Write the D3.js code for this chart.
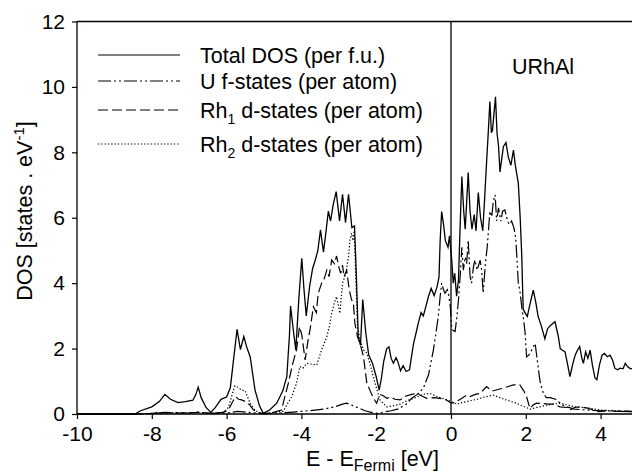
<!DOCTYPE html>
<html><head><meta charset="utf-8">
<script src="https://cdn.jsdelivr.net/npm/d3@7"></script>
<style>
html,body{margin:0;padding:0;background:#fff;}
svg{display:block;font-family:"Liberation Sans",Arial,Helvetica,sans-serif;}
</style></head>
<body><svg id="c" width="632" height="472"></svg>
<script>
// ---- data ----
const xTicks = [-10, -8, -6, -4, -2, 0, 2, 4];
const yTicks = [0, 2, 4, 6, 8, 10, 12];
const seriesNames = ["Total DOS (per f.u.)", "U f-states (per atom)", "Rh1 d-states (per atom)", "Rh2 d-states (per atom)"];

const totalE = [-10,-8.45,-8.3,-8.0,-7.8,-7.65,-7.5,-7.3,-7.1,-6.9,-6.82,-6.76,-6.68,-6.55,-6.42,-6.3,-6.15,-6.0,-5.9,-5.82,-5.72,-5.63,-5.54,-5.45,-5.37,-5.24,-5.12,-5.02,-4.85,-4.66,-4.5,-4.39,-4.32,-4.29,-4.22,-4.15,-4.07,-3.99,-3.93,-3.87,-3.78,-3.7,-3.63,-3.56,-3.49,-3.41,-3.35,-3.28,-3.22,-3.15,-3.07,-2.98,-2.9,-2.82,-2.74,-2.65,-2.58,-2.53,-2.48,-2.42,-2.36,-2.28,-2.2,-2.1,-2.0,-1.92,-1.86,-1.8,-1.72,-1.66,-1.6,-1.54,-1.47,-1.42,-1.35,-1.28,-1.2,-1.11,-1.05,-1.0,-0.93,-0.87,-0.8,-0.74,-0.67,-0.6,-0.53,-0.45,-0.37,-0.32,-0.29,-0.25,-0.2,-0.15,-0.08,-0.04,0.02,0.06,0.1,0.15,0.2,0.24,0.29,0.34,0.38,0.42,0.46,0.51,0.56,0.62,0.67,0.73,0.79,0.85,0.9,0.94,0.99,1.04,1.08,1.11,1.15,1.19,1.23,1.27,1.31,1.4,1.47,1.53,1.6,1.67,1.72,1.8,1.85,1.89,1.93,1.98,2.04,2.1,2.2,2.27,2.33,2.42,2.51,2.58,2.65,2.78,2.87,2.92,2.98,3.05,3.12,3.18,3.25,3.32,3.38,3.44,3.5,3.54,3.6,3.66,3.72,3.78,3.85,3.9,3.97,4.04,4.1,4.18,4.25,4.32,4.38,4.45,4.52,4.6,4.66,4.72,4.8,4.9];
const totalDOS = [0,0,0.1,0.22,0.38,0.6,0.45,0.35,0.38,0.42,0.6,0.82,0.5,0.2,0.05,0.2,0.45,0.52,0.8,1.6,2.59,1.97,2.37,2.0,1.75,0.73,0.25,0.02,0.12,0.33,0.7,1.14,2.4,3.3,2.6,1.96,3.5,4.76,3.8,3.0,3.9,4.45,4.7,5.0,5.63,4.95,5.5,6.2,5.9,6.4,6.8,5.9,6.72,5.85,6.72,5.7,5.75,4.2,2.36,2.1,3.5,2.5,1.8,1.55,1.14,0.73,1.1,1.6,2.0,2.05,1.7,1.55,1.72,1.6,1.32,1.48,1.3,1.35,1.8,2.16,2.5,2.8,3.1,3.0,3.3,3.6,3.84,3.62,3.9,4.2,5.3,6.19,5.8,5.3,5.1,5.45,4.7,4.0,4.3,3.6,4.1,5.6,7.26,6.2,5.65,6.5,7.38,6.2,5.65,6.1,5.6,6.77,6.0,5.6,6.6,7.46,8.48,9.55,8.6,8.68,9.2,9.7,8.6,8.2,7.4,8.17,8.3,7.87,7.6,8.07,7.6,7.05,6.0,4.9,3.2,3.1,2.98,3.3,3.79,3.4,2.98,2.67,2.3,2.6,2.7,2.82,2.37,2.0,1.95,1.9,1.5,1.14,1.5,1.8,1.95,2.06,1.7,1.55,1.9,1.7,1.95,1.5,1.1,1.05,1.5,1.8,1.85,1.75,1.8,1.65,1.4,1.35,1.4,1.38,1.55,1.45,1.38,1.4];

const uE = [-10,-8.4,-8.0,-7.6,-7.0,-6.76,-6.5,-6.0,-5.7,-5.4,-5.0,-4.6,-4.2,-3.8,-3.4,-3.1,-2.9,-2.79,-2.65,-2.5,-2.3,-2.1,-1.95,-1.8,-1.6,-1.4,-1.2,-1.05,-0.9,-0.74,-0.6,-0.47,-0.4,-0.34,-0.29,-0.25,-0.2,-0.16,-0.1,-0.07,-0.02,0.02,0.06,0.11,0.16,0.2,0.25,0.29,0.33,0.38,0.42,0.46,0.51,0.55,0.6,0.64,0.7,0.78,0.82,0.86,0.92,0.97,1.04,1.09,1.13,1.18,1.22,1.27,1.33,1.38,1.44,1.49,1.55,1.62,1.68,1.73,1.76,1.8,1.84,1.9,1.94,1.98,2.02,2.08,2.16,2.25,2.3,2.38,2.47,2.55,2.65,2.8,2.95,3.09,3.3,3.63,4.0,4.5,4.9];
const uDOS = [0,0,0.02,0.04,0.03,0.06,0.02,0.03,0.08,0.05,0.01,0.03,0.06,0.1,0.15,0.22,0.3,0.33,0.27,0.2,0.1,0.04,0.02,0.06,0.1,0.16,0.3,0.48,0.6,0.79,1.2,1.96,2.5,2.98,3.59,4.0,3.8,3.69,3.8,3.69,3.3,2.6,2.55,2.52,3.0,3.49,4.3,5.1,4.4,4.8,4.6,5.32,4.2,4.0,4.5,4.71,4.4,4.7,4.4,3.7,4.6,5.12,6.2,6.03,6.5,6.7,5.9,6.3,5.9,6.2,6.24,6.0,5.8,5.9,5.7,5.4,4.81,4.0,3.79,3.2,2.9,2.5,1.75,1.8,1.96,2.16,1.7,1.0,0.63,0.5,0.5,0.45,0.3,0.22,0.15,0.12,0.1,0.08,0.07];

const rh1E = [-10,-8.4,-8.0,-7.65,-7.2,-6.76,-6.4,-6.1,-5.95,-5.85,-5.76,-5.68,-5.6,-5.5,-5.4,-5.28,-5.1,-5.0,-4.75,-4.53,-4.45,-4.35,-4.23,-4.13,-4.05,-3.99,-3.9,-3.83,-3.77,-3.68,-3.6,-3.55,-3.46,-3.4,-3.32,-3.26,-3.19,-3.12,-3.06,-3.0,-2.95,-2.9,-2.86,-2.79,-2.72,-2.66,-2.61,-2.57,-2.5,-2.43,-2.34,-2.25,-2.17,-2.08,-1.99,-1.9,-1.8,-1.72,-1.6,-1.5,-1.36,-1.2,-1.05,-0.92,-0.78,-0.65,-0.45,-0.25,-0.12,0.0,0.1,0.25,0.42,0.51,0.65,0.78,0.95,1.1,1.25,1.4,1.55,1.67,1.84,1.95,2.02,2.11,2.2,2.29,2.45,2.6,2.75,2.91,3.1,3.18,3.3,3.45,3.65,3.85,3.98,4.2,4.4,4.6,4.9];
const rh1DOS = [0,0,0.02,0.05,0.03,0.05,0.02,0.05,0.12,0.35,0.53,0.45,0.43,0.38,0.3,0.12,0.03,0.01,0.05,0.12,0.5,0.94,1.55,1.96,2.67,2.42,1.65,2.2,2.57,3.28,3.1,3.69,4.0,4.1,4.4,4.2,4.71,4.6,4.83,4.5,4.3,4.55,4.2,4.4,3.79,3.5,3.39,2.77,2.36,2.16,1.75,0.94,0.73,0.5,0.33,0.6,0.55,0.48,0.52,0.45,0.43,0.55,0.6,0.63,0.55,0.48,0.5,0.47,0.43,0.33,0.35,0.45,0.58,0.53,0.6,0.63,0.84,0.7,0.75,0.79,0.85,0.89,0.89,0.7,0.53,0.17,0.28,0.33,0.32,0.3,0.3,0.22,0.2,0.12,0.2,0.22,0.18,0.1,0.07,0.12,0.08,0.1,0.08];

const rh2E = [-10,-8.4,-8.0,-7.65,-7.0,-6.76,-6.4,-6.1,-5.95,-5.85,-5.78,-5.7,-5.6,-5.51,-5.45,-5.37,-5.25,-5.1,-5.0,-4.75,-4.49,-4.38,-4.26,-4.13,-4.04,-3.96,-3.86,-3.72,-3.59,-3.46,-3.32,-3.25,-3.19,-3.12,-3.06,-2.97,-2.9,-2.81,-2.74,-2.7,-2.66,-2.62,-2.59,-2.54,-2.5,-2.43,-2.34,-2.25,-2.17,-2.03,-1.9,-1.72,-1.55,-1.36,-1.15,-0.95,-0.75,-0.56,-0.35,-0.15,0.0,0.15,0.3,0.5,0.7,0.9,1.13,1.3,1.5,1.7,1.9,2.11,2.3,2.5,2.7,2.91,3.1,3.3,3.5,3.7,4.0,4.3,4.6,4.9];
const rh2DOS = [0,0,0.01,0.03,0.02,0.04,0.02,0.05,0.2,0.6,0.86,0.82,0.73,0.72,0.55,0.33,0.12,0.03,0.01,0.05,0.08,0.3,0.53,0.94,1.45,1.4,1.55,1.52,1.5,1.96,2.36,2.7,3.08,3.4,3.59,3.08,4.0,4.3,4.81,5.32,5.53,5.3,5.6,4.0,2.67,2.26,1.96,1.86,1.55,0.94,0.43,0.22,0.25,0.3,0.42,0.5,0.6,0.63,0.52,0.45,0.38,0.3,0.35,0.4,0.45,0.52,0.58,0.5,0.42,0.35,0.25,0.15,0.2,0.25,0.3,0.33,0.28,0.22,0.2,0.18,0.12,0.1,0.08,0.07];

// ---- drawing ----
const svg = d3.select("#c");
const FS = 21.5;      // legend / titles
const TFS = 21;       // tick labels
const x = d3.scaleLinear().domain([-10, 5]).range([77, 638]);
const y = d3.scaleLinear().domain([0, 12]).range([414, 21.5]);

const dashes = ["none", "13 3 2 3 2 3", "10 4", "1.3 2"];
const series = [[totalE, totalDOS], [uE, uDOS], [rh1E, rh1DOS], [rh2E, rh2DOS]];
const line = d3.line().x(d => x(d[0])).y(d => y(d[1]));

const plot = svg.append("g");
series.forEach((s, i) => {
  const pts = s[0].map((e, k) => [e, s[1][k]]);
  plot.append("path").datum(pts)
    .attr("d", line)
    .attr("fill", "none")
    .attr("stroke", "#000")
    .attr("stroke-width", i === 0 ? 1.3 : 1.2)
    .attr("stroke-dasharray", dashes[i]);
});

// Fermi level line
svg.append("line").attr("x1", x(0)).attr("x2", x(0)).attr("y1", y(0)).attr("y2", y(12))
  .attr("stroke", "#000").attr("stroke-width", 1.3);
// top frame
svg.append("line").attr("x1", x(-10)).attr("x2", 632).attr("y1", y(12)).attr("y2", y(12))
  .attr("stroke", "#000").attr("stroke-width", 1.3);

const xAxis = svg.append("g").attr("transform", `translate(0,${y(0)})`)
  .call(d3.axisBottom(x).tickValues(xTicks).tickSize(5).tickPadding(7).tickFormat(d3.format("d")));
const yAxis = svg.append("g").attr("transform", `translate(${x(-10)},0)`)
  .call(d3.axisLeft(y).tickValues(yTicks).tickSize(5).tickPadding(7).tickFormat(d3.format("d")));
[xAxis, yAxis].forEach(a => {
  a.selectAll("path.domain").attr("stroke", "#000").attr("stroke-width", 1.3);
  a.selectAll(".tick line").attr("stroke", "#000").attr("stroke-width", 1.2);
  a.selectAll(".tick text").attr("fill", "#000").style("font-size", TFS + "px")
    .style("font-family", '"Liberation Sans", Arial, sans-serif');
});
xAxis.select("path.domain").attr("d", `M${x(-10)},0H632`);
yAxis.select("path.domain").attr("d", `M0,${y(0)}V${y(12)}`);
xAxis.selectAll(".tick text").text(d => d < 0 ? "-" + Math.abs(d) : d);

// Axis titles
const xt = svg.append("text").attr("x", 306).attr("y", 466).style("font-size", FS + "px").attr("fill", "#000");
xt.append("tspan").text("E - E");
xt.append("tspan").attr("dy", 4.5).style("font-size", "16px").text("Fermi");
xt.append("tspan").attr("dy", -4.5).text(" [eV]");

const yt = svg.append("text").attr("transform", "translate(32,211) rotate(-90)")
  .attr("text-anchor", "middle").style("font-size", FS + "px").attr("fill", "#000");
yt.append("tspan").text("DOS [states . eV");
yt.append("tspan").attr("dy", -8).style("font-size", "15px").text("-1");
yt.append("tspan").attr("dy", 8).text("]");

// Compound label
svg.append("text").attr("x", 543).attr("y", 73.5).attr("text-anchor", "middle")
  .style("font-size", FS + "px").attr("fill", "#000").text("URhAl");

// Legend
const legY = [55, 81, 110, 144];
const legLabels = [
  [["Total DOS (per f.u.)", 0]],
  [["U f-states (per atom)", 0]],
  [["Rh", 0], ["1", 1], [" d-states (per atom)", 0]],
  [["Rh", 0], ["2", 1], [" d-states (per atom)", 0]]
];
legLabels.forEach((parts, i) => {
  svg.append("line").attr("x1", 98).attr("x2", 180).attr("y1", legY[i]).attr("y2", legY[i])
    .attr("stroke", "#000").attr("stroke-width", 1.2).attr("stroke-dasharray", dashes[i]);
  const t = svg.append("text").attr("x", 200).attr("y", legY[i] + 7.5).style("font-size", FS + "px").attr("fill", "#000");
  let sub = false;
  parts.forEach(p => {
    const ts = t.append("tspan").text(p[0]);
    if (p[1] === 1) { ts.attr("dy", 6).style("font-size", "14px"); sub = true; }
    else if (sub) { ts.attr("dy", -6); sub = false; }
  });
});
</script></body></html>
